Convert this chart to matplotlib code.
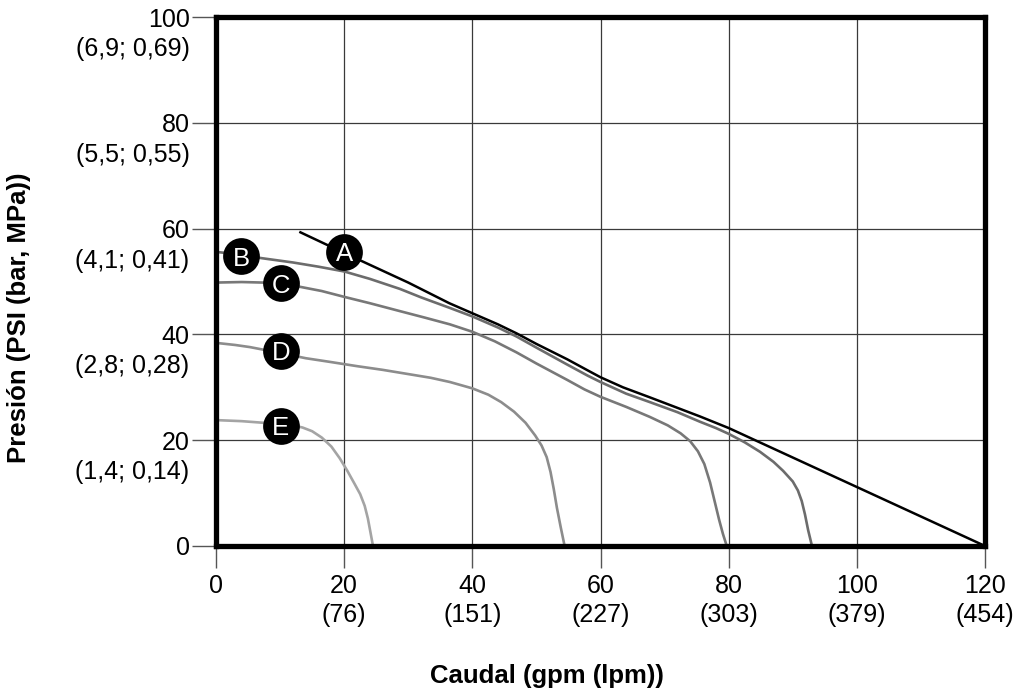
import matplotlib
matplotlib.use("Agg")
import matplotlib.pyplot as plt
from matplotlib.transforms import blended_transform_factory

plt.rcParams['font.family'] = ['Liberation Sans', 'DejaVu Sans']

# Pump performance curves: flow (gpm) vs. pressure (psi)
a_flow = [13, 20, 30, 36.4, 40, 44, 46.9, 50, 54.8, 58, 60, 63.5, 67.7, 75.5, 80, 120]
a_psi = [59.4, 55.4, 49.8, 45.9, 44.0, 41.9, 40.2, 38.2, 35.3, 33.2, 31.9, 30.0, 28.1, 24.5, 22.3, 0]

b_flow = [0, 3, 7.2, 12, 16, 20, 24, 28.7, 32, 36.5, 40, 44, 46.9, 50, 54.8, 58, 60, 64,
          67.7, 72, 75.5, 78, 80, 82.5, 84.9, 87, 88.5, 90, 90.8, 91.4, 91.9, 92.4, 93]
b_psi = [55.6, 55.2, 54.4, 53.6, 52.8, 51.9, 50.5, 48.6, 47.0, 45.0, 43.4, 41.3, 39.6, 37.5,
         34.3, 32.2, 31.0, 28.8, 27.2, 25.3, 23.5, 22.3, 21.2, 19.6, 17.8, 15.9, 14.2, 12.2,
         10.5, 8.5, 6.0, 3.0, 0]

c_flow = [0, 4, 7.3, 10, 13.1, 16.5, 20, 24, 28.7, 32.5, 36.5, 40, 43.5, 46.9, 50, 54.8,
          57.5, 60, 64, 67.7, 70.5, 72.5, 74, 75.2, 76.2, 77.1, 77.8, 78.5, 79.1, 79.7]
c_psi = [49.8, 49.9, 49.8, 49.5, 49.0, 48.2, 47.1, 45.9, 44.4, 43.2, 41.9, 40.5, 38.7, 36.6,
         34.5, 31.4, 29.6, 28.2, 26.3, 24.4, 22.8, 21.3, 19.8, 17.9, 15.5, 12.0, 8.5, 5.0, 2.3, 0]

d_flow = [0, 3, 5.3, 10, 14, 17.8, 22, 26, 30, 33.5, 36.5, 40, 42.5, 44.5, 46.5, 48.3, 49.8,
          50.8, 51.6, 52.2, 52.7, 53.2, 53.8, 54.4]
d_psi = [38.4, 38.0, 37.6, 36.5, 35.5, 34.8, 34.0, 33.3, 32.5, 31.8, 31.0, 29.8, 28.6, 27.2,
         25.4, 23.3, 20.9, 19.0, 16.8, 14.0, 10.8, 7.2, 3.5, 0]

e_flow = [0, 4, 7.3, 10, 12, 13.5, 15, 16.5, 18, 19.3, 20.5, 21.6, 22.5, 23.2, 23.7, 24.1, 24.5]
e_psi = [23.8, 23.6, 23.3, 23.0, 22.8, 22.4, 21.7, 20.5, 18.8, 16.6, 14.2, 11.8, 9.8, 7.6,
         5.2, 2.6, 0]

curve_names = ['A', 'B', 'C', 'D', 'E']
curve_colors = ['#000000', '#6c6c6c', '#787878', '#8c8c8c', '#a4a4a4']
badge_x = [20, 3.9, 10.1, 10.1, 10.1]
badge_y = [55.6, 54.8, 49.7, 36.9, 22.7]

x_ticks = [0, 20, 40, 60, 80, 100, 120]
x_tick_lpm = ['', '(76)', '(151)', '(227)', '(303)', '(379)', '(454)']
y_ticks = [0, 20, 40, 60, 80, 100]
y_tick_bar = ['', '(1,4; 0,14)', '(2,8; 0,28)', '(4,1; 0,41)', '(5,5; 0,55)', '(6,9; 0,69)']

fig = plt.figure(figsize=(10.16, 6.95), dpi=100)
ax = fig.add_axes([0.2126, 0.2144, 0.7569, 0.7611])

series = [(a_flow, a_psi), (b_flow, b_psi), (c_flow, c_psi), (d_flow, d_psi), (e_flow, e_psi)]
for (fx, fy), col, name in zip(series, curve_colors, curve_names):
    lw = 1.8 if name == 'A' else 1.9
    ax.plot(fx, fy, color=col, lw=lw, solid_joinstyle='round', solid_capstyle='butt', zorder=3)

ax.scatter(badge_x, badge_y, s=700, color='black', zorder=5, linewidths=0)
for name, bx, by in zip(curve_names, badge_x, badge_y):
    ax.text(bx, by, name, color='white', fontsize=18.5, ha='center', va='center_baseline', zorder=6)

ax.set_xlim(0, 120)
ax.set_ylim(0, 100)
ax.set_xticks(x_ticks)
ax.set_xticklabels([f"{t}\n{l}" if l else f"{t}" for t, l in zip(x_ticks, x_tick_lpm)],
                   linespacing=1.25)
ax.set_yticks(y_ticks)
ax.set_yticklabels([str(t) for t in y_ticks])

ax.grid(True, color='#3a3a3a', lw=0.9, zorder=1)
ax.set_axisbelow(True)
for sp in ax.spines.values():
    sp.set_linewidth(3.8)
    sp.set_color('black')
    sp.set_zorder(4)

ax.tick_params(axis='both', which='major', labelsize=18, color='#555555', width=1.0, direction='out')
ax.tick_params(axis='x', length=16, pad=4)
ax.tick_params(axis='y', length=17, pad=2)

# secondary units under each y tick value
trans = blended_transform_factory(ax.transAxes, ax.transData)
for t, lab in zip(y_ticks, y_tick_bar):
    if lab:
        ax.annotate(lab, xy=(0, t), xycoords=trans, xytext=(-19, -23), textcoords='offset points',
                    ha='right', va='center', fontsize=18)

fig.text(547 / 1016, 1 - 676 / 695, 'Caudal (gpm (lpm))', ha='center', va='center',
         fontsize=18.5, fontweight='bold')
fig.text(19 / 1016, 1 - 318 / 695, 'Presión (PSI (bar, MPa))', ha='center', va='center',
         rotation=90, fontsize=18.5, fontweight='bold')

fig.savefig('out.png', dpi=100)
